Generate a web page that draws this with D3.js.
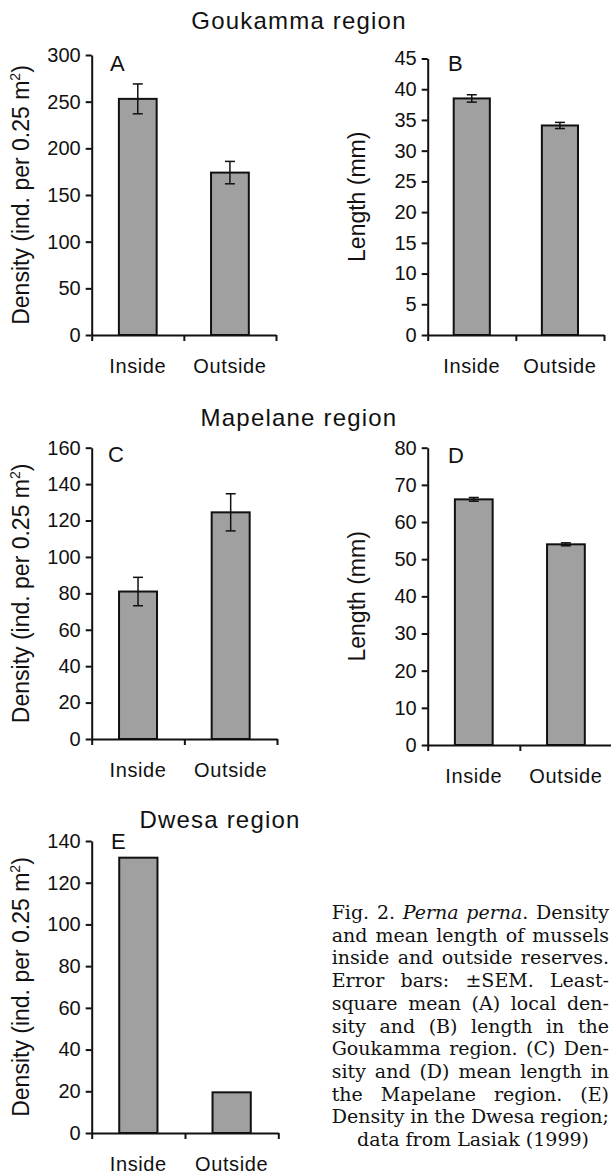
<!DOCTYPE html>
<html>
<head>
<meta charset="utf-8">
<script src="https://cdn.jsdelivr.net/npm/d3@7"></script>
<style>
  body { margin: 0; background: #fff; }
  svg { display: block; }
</style>
</head>
<body>
<div id="chart"></div>
<script>
// categories on every panel
const categories = ["Inside", "Outside"];

// Goukamma region
const goukammaDensity = [253, 174];
const goukammaDensityErr = [16, 12];
const goukammaLength = [38.5, 34.1];
const goukammaLengthErr = [0.6, 0.5];

// Mapelane region
const mapelaneDensity = [81, 124.5];
const mapelaneDensityErr = [7.8, 10.2];
const mapelaneLength = [66.1, 54];
const mapelaneLengthErr = [0.5, 0.4];

// Dwesa region (no error bars)
const dwesaDensity = [132, 19.5];

// tick labels
const ticksA = [0, 50, 100, 150, 200, 250, 300];
const ticksB = [0, 5, 10, 15, 20, 25, 30, 35, 40, 45];
const ticksC = [0, 20, 40, 60, 80, 100, 120, 140, 160];
const ticksD = [0, 10, 20, 30, 40, 50, 60, 70, 80];
const ticksE = [0, 20, 40, 60, 80, 100, 120, 140];

const regionTitles = ["Goukamma region", "Mapelane region", "Dwesa region"];

const captionLines = [
  ["Fig.", "2.", "<i>Perna", "perna</i>.", "Density"],
  ["and", "mean", "length", "of", "mussels"],
  ["inside", "and", "outside", "reserves."],
  ["Error", "bars:", "±SEM.", "Least-"],
  ["square", "mean", "(A)", "local", "den-"],
  ["sity", "and", "(B)", "length", "in", "the"],
  ["Goukamma", "region.", "(C)", "Den-"],
  ["sity", "and", "(D)", "mean", "length", "in"],
  ["the", "Mapelane", "region.", "(E)"],
  ["Density", "in", "the", "Dwesa", "region;"]
];
const captionLast = "data from Lasiak (1999)";

const width = 611, height = 1174;
const sans = "'Liberation Sans', Arial, Helvetica, sans-serif";

const svg = d3.select("#chart").append("svg")
  .attr("width", width)
  .attr("height", height);

svg.append("rect").attr("width", width).attr("height", height).attr("fill", "#fff");

const panels = [
  { letter: "A", values: goukammaDensity, errors: goukammaDensityErr, ticks: ticksA, label: "density",
    x0: 91.7, x1: 276, yZero: 335, yTop: 55, labelX: 28.5, letterX: 110, letterY: 71 },
  { letter: "B", values: goukammaLength, errors: goukammaLengthErr, ticks: ticksB, label: "length",
    x0: 427.7, x1: 604, yZero: 335, yTop: 58.5, labelX: 365, letterX: 448, letterY: 71 },
  { letter: "C", values: mapelaneDensity, errors: mapelaneDensityErr, ticks: ticksC, label: "density",
    x0: 91.7, x1: 277, yZero: 739, yTop: 447.7, labelX: 28.5, letterX: 108, letterY: 462 },
  { letter: "D", values: mapelaneLength, errors: mapelaneLengthErr, ticks: ticksD, label: "length",
    x0: 427.7, x1: 612, yZero: 745, yTop: 447.7, labelX: 365, letterX: 448, letterY: 463 },
  { letter: "E", values: dwesaDensity, errors: null, ticks: ticksE, label: "density",
    x0: 91.7, x1: 278.3, yZero: 1133, yTop: 841, labelX: 28.5, letterX: 111, letterY: 849 }
];

function drawPanel(p) {
  const g = svg.append("g");
  const max = p.ticks[p.ticks.length - 1];

  const y = d3.scaleLinear().domain([0, max]).range([p.yZero, p.yTop]);
  const x = d3.scaleBand().domain(categories).range([p.x0, p.x1])
    .paddingInner(0.59).paddingOuter(0.295);

  // bars
  g.selectAll("rect.bar")
    .data(p.values)
    .join("rect")
    .attr("class", "bar")
    .attr("x", (d, i) => x(categories[i]))
    .attr("y", d => y(d))
    .attr("width", x.bandwidth())
    .attr("height", d => y(0) - y(d))
    .attr("fill", "#a0a0a0")
    .attr("stroke", "#111")
    .attr("stroke-width", 2);

  // error bars
  if (p.errors) {
    const eb = g.selectAll("g.err")
      .data(p.values.map((v, i) => ({ v, e: p.errors[i], c: categories[i] })))
      .join("g")
      .attr("class", "err")
      .attr("stroke", "#111")
      .attr("stroke-width", 1.5);
    eb.append("line")
      .attr("x1", d => x(d.c) + x.bandwidth() / 2)
      .attr("x2", d => x(d.c) + x.bandwidth() / 2)
      .attr("y1", d => y(d.v + d.e))
      .attr("y2", d => y(d.v - d.e));
    [1, -1].forEach(s => {
      eb.append("line")
        .attr("x1", d => x(d.c) + x.bandwidth() / 2 - 5)
        .attr("x2", d => x(d.c) + x.bandwidth() / 2 + 5)
        .attr("y1", d => y(d.v + s * d.e))
        .attr("y2", d => y(d.v + s * d.e));
    });
  }

  // y axis
  const ya = g.append("g")
    .attr("transform", `translate(${p.x0},0)`)
    .call(d3.axisLeft(y).tickValues(p.ticks).tickSizeInner(6).tickSizeOuter(0).tickPadding(5));

  // x axis: ticks on the band edges
  const xe = d3.scaleLinear().domain([0, 2]).range([p.x0, p.x1]);
  const xa = g.append("g")
    .attr("transform", `translate(0,${p.yZero})`)
    .call(d3.axisBottom(xe).tickValues([0, 1, 2]).tickFormat("").tickSizeInner(6).tickSizeOuter(0));

  [ya, xa].forEach(a => {
    a.attr("font-family", sans).attr("font-size", 20);
    a.select(".domain").attr("stroke", "#111").attr("stroke-width", 2);
    a.selectAll(".tick line").attr("stroke", "#111").attr("stroke-width", 2);
    a.selectAll(".tick text").attr("fill", "#111");
  });

  // category labels
  g.selectAll("text.cat")
    .data(categories)
    .join("text")
    .attr("class", "cat")
    .attr("x", d => x(d) + x.bandwidth() / 2)
    .attr("y", p.yZero + 38)
    .attr("text-anchor", "middle")
    .attr("font-family", sans)
    .attr("font-size", 20)
    .attr("letter-spacing", 0.6)
    .attr("fill", "#111")
    .text(d => d);

  // panel letter
  g.append("text")
    .attr("x", p.letterX)
    .attr("y", p.letterY)
    .attr("font-family", sans)
    .attr("font-size", 22)
    .attr("fill", "#111")
    .text(p.letter);

  // y axis title
  const t = g.append("text")
    .attr("transform", `translate(${p.labelX},${(p.yZero + p.yTop) / 2}) rotate(-90)`)
    .attr("text-anchor", "middle")
    .attr("font-family", sans)
    .attr("font-size", 23)
    .attr("fill", "#111");
  if (p.label === "density") {
    t.append("tspan").text("Density (ind. per 0.25 m");
    t.append("tspan").attr("font-size", 14).attr("dy", -9).text("2");
    t.append("tspan").attr("dy", 9).text(")");
  } else {
    t.text("Length (mm)");
  }
}

panels.forEach(drawPanel);

// region titles
const titlePos = [[299, 29], [299, 426], [220, 828]];
svg.selectAll("text.region")
  .data(regionTitles)
  .join("text")
  .attr("class", "region")
  .attr("x", (d, i) => titlePos[i][0])
  .attr("y", (d, i) => titlePos[i][1])
  .attr("text-anchor", "middle")
  .attr("font-family", sans)
  .attr("font-size", 24)
  .attr("letter-spacing", 1.2)
  .attr("fill", "#111")
  .text(d => d);

// caption, justified by hand
const capLeft = 331.7, capRight = 609, capTop = 919, capLead = 22.7;
const serif = "'DejaVu Serif', 'Liberation Serif', serif";
const cap = svg.append("g")
  .attr("font-family", serif)
  .attr("font-size", 19)
  .attr("fill", "#111");

captionLines.forEach((words, li) => {
  const yy = capTop + li * capLead;
  let italic = false;
  const nodes = words.map(w => {
    let parts = [];
    let s = w;
    if (s.startsWith("<i>")) { italic = true; s = s.slice(3); }
    const closeIdx = s.indexOf("</i>");
    if (closeIdx >= 0) {
      parts.push({ t: s.slice(0, closeIdx), it: true });
      parts.push({ t: s.slice(closeIdx + 4), it: false });
      italic = false;
    } else {
      parts.push({ t: s, it: italic });
    }
    const txt = cap.append("text").attr("y", yy);
    parts.filter(q => q.t.length).forEach(q => {
      txt.append("tspan").attr("font-style", q.it ? "italic" : "normal").text(q.t);
    });
    return txt;
  });
  const widths = nodes.map(n => n.node().getComputedTextLength());
  const total = d3.sum(widths);
  const gap = (capRight - capLeft - total) / (nodes.length - 1);
  let xx = capLeft;
  nodes.forEach((n, i) => {
    n.attr("x", xx);
    xx += widths[i] + gap;
  });
});

cap.append("text")
  .attr("x", 473)
  .attr("y", capTop + captionLines.length * capLead)
  .attr("text-anchor", "middle")
  .text(captionLast);
</script>
</body>
</html>
